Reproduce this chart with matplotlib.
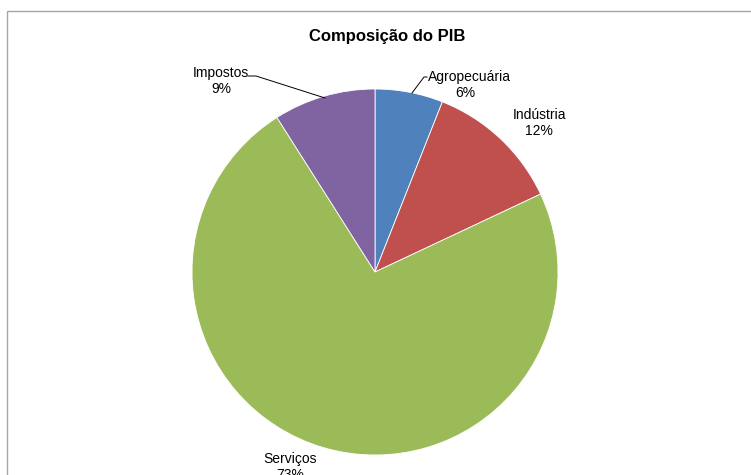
import matplotlib.pyplot as plt
from matplotlib.patches import Rectangle

plt.rcParams['font.family'] = ['Liberation Sans', 'DejaVu Sans']

# dados
setores = ['Agropecuária', 'Indústria', 'Serviços', 'Impostos']
valores = [6, 12, 73, 9]
cores = ['#4F81BD', '#C0504D', '#9BBB59', '#8064A2']

W, H = 751, 475
fig = plt.figure(figsize=(W / 100, H / 100), dpi=100)
ax = fig.add_axes([0, 0, 1, 1])


def py(y):
    # coordenada de pixel (origem em cima) -> dados
    return H - y


# moldura do gráfico
ax.add_patch(Rectangle((7, py(H + 20)), W + 20, H + 9, fill=False,
                       edgecolor='#A6A6A6', linewidth=1.0, clip_on=False))

ax.pie(valores, colors=cores, startangle=90, counterclock=False,
       center=(375, py(272)), radius=183, frame=True,
       wedgeprops=dict(edgecolor='white', linewidth=0.6))
ax.set_xlim(0, W)
ax.set_ylim(0, H)
ax.axis('off')

ax.text(387, py(36), 'Composição do PIB', ha='center', va='center',
        fontsize=12, fontweight='bold')

fs = 10
rotulos = {
    'Agropecuária': (469, 77, 465),
    'Indústria': (539, 115, 539),
    'Serviços': (290, 459, 290),
    'Impostos': (221, 73, 221),
}
for nome, v in zip(setores, valores):
    x, y, x2 = rotulos[nome]
    ax.text(x, py(y), nome, ha='center', va='center', fontsize=fs)
    ax.text(x2, py(y + 16), f'{v}%', ha='center', va='center', fontsize=fs)

# linhas de chamada
ax.plot([427, 424, 412], [py(77), py(77), py(93)], color='black', linewidth=0.7)
ax.plot([248, 256, 325], [py(76), py(76), py(98)], color='black', linewidth=0.7)

fig.savefig('out.png', dpi=100)
